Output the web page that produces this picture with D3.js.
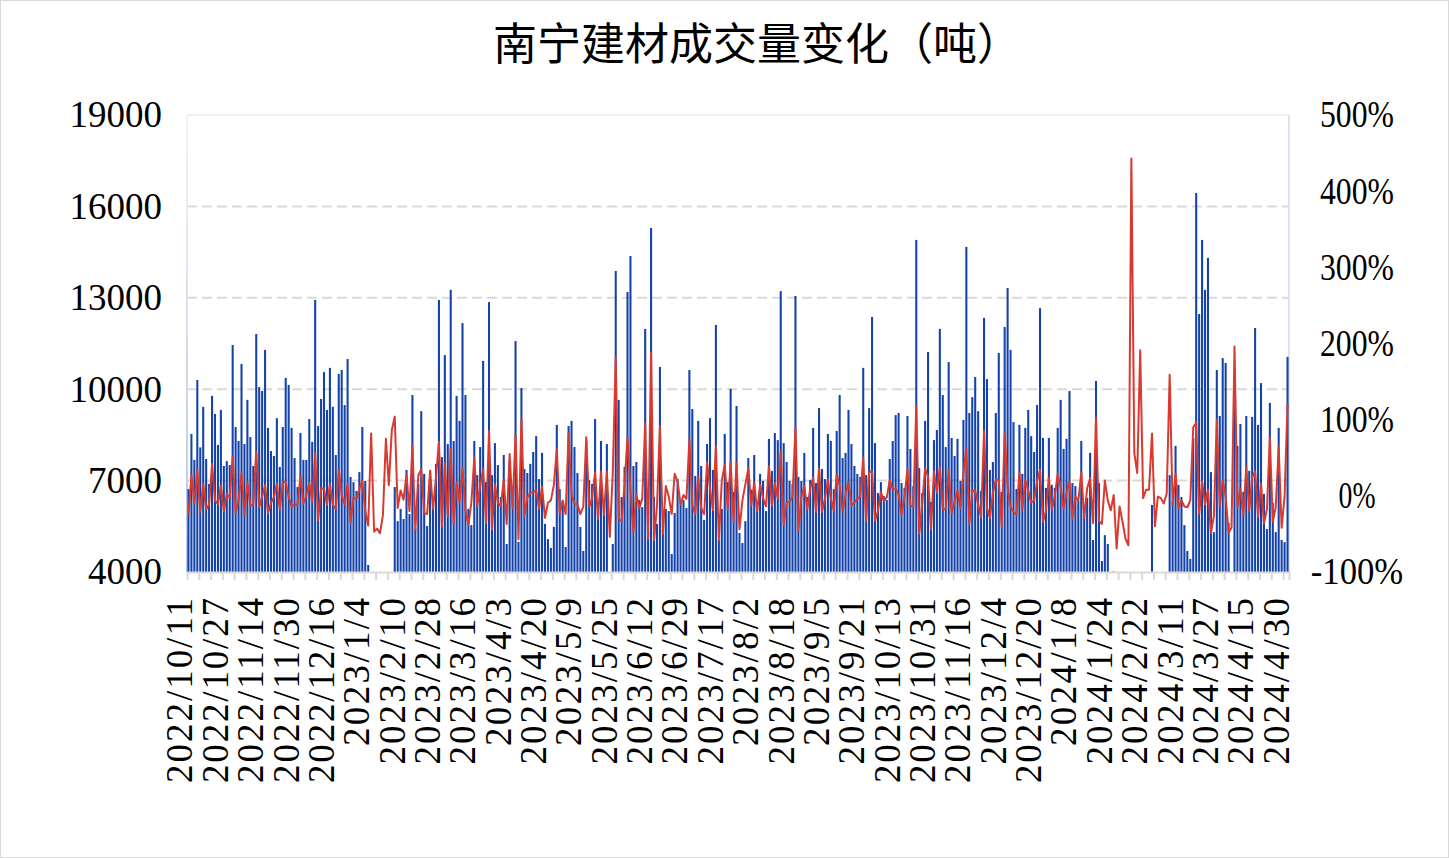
<!DOCTYPE html>
<html><head><meta charset="utf-8">
<script src="https://cdn.jsdelivr.net/npm/d3@7"></script>
<style>html,body{margin:0;padding:0;background:#fff;}svg{display:block;}</style>
</head><body>
<svg id="chart" width="1449" height="858"></svg>
<script>
const title = "南宁建材成交量变化（吨）";
const tickLabels = ["2022/10/11","2022/10/27","2022/11/14","2022/11/30","2022/12/16","2023/1/4","2023/2/10","2023/2/28","2023/3/16","2023/4/3","2023/4/20","2023/5/9","2023/5/25","2023/6/12","2023/6/29","2023/7/17","2023/8/2","2023/8/18","2023/9/5","2023/9/21","2023/10/13","2023/10/31","2023/11/16","2023/12/4","2023/12/20","2024/1/8","2024/1/24","2024/2/22","2024/3/11","2024/3/27","2024/4/15","2024/4/30"];
const leftTicks = [4000,7000,10000,13000,16000,19000];
const rightTicks = [-100,0,100,200,300,400,500];
// 成交量（吨）
const volume = [
6720,8530,7680,10300,8090,9420,7710,6890,9780,9190,
8170,9320,7480,7640,7510,11450,8760,8300,10830,8200,
9650,8430,7480,11810,10070,9940,11290,8730,7970,7810,
9050,7450,8760,10370,10140,8730,7740,6790,8560,7680,
7680,9020,8270,12930,8790,9680,10560,9320,10700,9420,
7840,10500,10630,9480,10990,7120,6950,6660,7280,8760,
6990,4230,3950,3920,2350,1200,900,1570,1790,3330,
6790,5670,6070,5740,7350,5900,9810,5430,6890,9280,
7220,5510,7350,6070,7550,12930,7770,11120,8200,13260,
8300,9780,8960,12170,9810,6070,5540,8300,7180,8100,
10930,6950,12860,7180,8230,7510,6460,7840,4920,7640,
6430,11580,4990,10040,7380,7250,7550,7940,8460,7050,
7910,5580,5080,4790,5480,8830,6720,6330,4820,8790,
8960,8100,7250,5480,4690,8300,7020,6890,9020,6300,
8300,6200,8200,3770,4920,13880,9650,6460,7450,13190,
14370,7480,7610,6360,6130,11980,5300,15290,6460,5580,
10730,5380,6070,6000,4590,5940,7050,6300,6360,6100,
10630,9350,7150,8960,7480,5710,8200,9050,7350,12110,
5050,6070,8530,6950,10010,6630,9450,5280,4950,5670,
7740,6700,7840,6300,7220,6990,6000,8370,7320,8560,
8330,13220,8230,7610,6990,6890,13060,7120,6990,7910,
6460,7020,8730,6920,9380,7380,7050,8530,8300,6720,
8630,9810,7740,7910,9320,8200,7480,7220,7120,10700,
7180,9380,12370,8230,6590,6950,6490,6360,7710,8300,
9150,9220,6920,6760,9120,8040,6820,14900,7410,6590,
8960,11220,6300,8330,8660,11980,9810,8100,10890,8400,
7810,8370,6990,8990,14670,9220,9740,10400,9280,6660,
12340,10330,7350,7610,9220,11190,6630,12040,13320,11290,
8920,6720,8830,7220,8730,9320,8460,7940,9480,12660,
8400,6760,8400,6860,6760,8730,9650,8040,8370,9940,
6920,6820,6330,8300,5870,6430,7910,5050,10270,6920,
4360,5210,4920,3990,4020,1250,1070,710,310,110,
600,935,1215,3540,3430,3700,3990,6200,3130,3100,
3000,2700,2780,7180,6300,8140,6860,6460,5540,4690,
4430,8400,16440,12470,14900,13260,14310,7280,5310,10630,
9120,11020,10860,5610,3250,9610,8140,8860,6630,9120,
7320,9090,12010,8830,10200,6560,5410,9550,6270,5310,
8730,5050,4980,11060];
// 环比变化（%）
const change = [
-25,27,-10,34,-21,16,-18,-11,42,-6,
-11,14,-20,2,-2,52,-23,-5,30,-24,
18,-13,-11,58,-15,-1,14,-23,-9,-2,
16,-18,18,18,-2,-14,-11,-12,26,-10,
0,17,-8,56,-32,10,9,-12,15,-12,
-17,34,1,-11,16,-35,-2,-4,9,20,
-20,-39,82,-47,-43,-49,-25,75,14,86,
104,-16,7,-5,28,-20,66,-45,27,35,
-22,-24,33,-17,24,71,-40,43,-26,62,
-37,18,-8,36,-19,-38,-9,50,-13,13,
35,-36,85,-44,15,-9,-14,21,-37,55,
-16,80,-57,101,-26,-2,4,5,7,-17,
12,-29,-9,-6,14,61,-24,-6,-24,82,
2,-10,-11,-24,-14,77,-15,-2,31,-30,
32,-25,32,-54,30,182,-31,-33,15,77,
9,-48,2,-16,-4,95,-56,188,-58,-14,
92,-50,13,-1,-24,29,19,-11,1,-4,
74,-12,-24,25,-16,-24,44,10,-19,65,
-58,20,41,-18,44,-34,43,-44,-6,15,
36,-13,17,-20,15,-3,-14,39,-13,17,
-3,59,-38,-8,-8,-1,90,-45,-2,13,
-18,9,24,-21,36,-21,-4,21,-3,-19,
28,14,-21,2,18,-12,-9,-4,-1,50,
-33,31,32,-33,-20,5,-7,-2,21,8,
10,1,-25,-2,35,-12,-15,118,-50,-11,
36,25,-44,32,4,38,-18,-17,34,-23,
-7,7,-16,29,63,-37,6,7,-11,-28,
85,-16,-29,4,21,21,-41,82,11,-15,
-21,-25,31,-18,21,7,-9,-6,19,34,
-34,-20,24,-18,-1,29,11,-17,4,19,
-30,-1,-7,31,-29,10,23,-36,103,-33,
-37,20,-6,-19,1,-69,-14,-34,-56,-65,
443,56,30,191,-3,8,8,82,-40,-1,
-3,-10,3,159,-12,29,-16,-6,-14,-15,
-6,90,96,-24,19,-11,8,-49,-27,100,
-14,21,-1,-48,-42,196,-15,9,-25,38,
-20,24,32,-27,16,-36,-18,76,-34,-15,
64,-42,-1,122];

const W = 1449, H = 858;
const plot = {left: 187, right: 1289, top: 115, bottom: 572};
const numFont = "'Liberation Serif', 'Times New Roman', serif";
const fs = 37;
const svg = d3.select("#chart");

svg.append("rect").attr("x",0.5).attr("y",0.5).attr("width",W-1).attr("height",H-1)
  .attr("fill","#fff").attr("stroke","#d9d9d9");

svg.append("text").attr("x",757).attr("y",60).attr("text-anchor","middle")
  .attr("font-family","'Noto Sans CJK SC', sans-serif").attr("font-size",44).attr("fill","#000")
  .text(title);

const n = volume.length;
const x = d3.scaleBand().domain(d3.range(n)).range([plot.left, plot.right]).paddingInner(0.3).paddingOuter(0.15);
const xEdge = d3.scaleLinear().domain([0, n]).range([plot.left, plot.right]);
const yL = d3.scaleLinear().domain([4000, 19000]).range([plot.bottom, plot.top]).clamp(true);
const yR = d3.scaleLinear().domain([-100, 500]).range([plot.bottom, plot.top]);

// gridlines
svg.append("g").selectAll("line").data(leftTicks.filter(d => d > 4000 && d < 19000)).join("line")
  .attr("x1", plot.left).attr("x2", plot.right)
  .attr("y1", d => yL(d)).attr("y2", d => yL(d))
  .attr("stroke", "#d9d9d9").attr("stroke-width", 2).attr("stroke-dasharray", "10,5");

// plot border
const defs = svg.append("defs");
const lg = defs.append("linearGradient").attr("id","lgL").attr("x1",0).attr("y1",0).attr("x2",0).attr("y2",1);
lg.append("stop").attr("offset","0%").attr("stop-color","#f1f4fa");
lg.append("stop").attr("offset","100%").attr("stop-color","#b4c4e4");
svg.append("line").attr("x1",plot.left).attr("x2",plot.right).attr("y1",plot.top).attr("y2",plot.top)
  .attr("stroke","#eef0f4").attr("stroke-width",2);
svg.append("rect").attr("x",plot.left-1).attr("y",plot.top).attr("width",2).attr("height",plot.bottom-plot.top)
  .attr("fill","url(#lgL)");
svg.append("line").attr("x1",plot.right).attr("x2",plot.right).attr("y1",plot.top).attr("y2",plot.bottom)
  .attr("stroke","#dde4f1").attr("stroke-width",2);

// bars
svg.append("g").selectAll("rect").data(volume).join("rect")
  .attr("x", (d, i) => x(i)).attr("width", x.bandwidth())
  .attr("y", d => yL(d)).attr("height", d => plot.bottom - yL(d))
  .attr("fill", "#1343AA");

// line
const line = d3.line().x((d, i) => x(i) + x.bandwidth() / 2).y(d => yR(d));
svg.append("path").datum(change).attr("d", line).attr("fill", "none")
  .attr("stroke", "#D93A30").attr("stroke-width", 2).attr("stroke-linejoin", "round");

// x axis line & tick marks
const gt = svg.append("g").attr("transform", `translate(0,${plot.bottom})`)
  .call(d3.axisBottom(xEdge).tickValues(d3.range(0, n + 1, 4).concat([n])).tickSize(8).tickSizeOuter(0).tickFormat(""));
gt.select(".domain").attr("stroke", "#d9d9d9").attr("stroke-width", 2);
gt.selectAll(".tick line").attr("stroke", "#d9d9d9").attr("stroke-width", 2);

// x labels
const gx = svg.append("g").attr("transform", `translate(0,${plot.bottom})`)
  .call(d3.axisBottom(x).tickValues(d3.range(0, n, 12)).tickFormat(i => tickLabels[i / 12]).tickSize(0));
gx.select(".domain").remove();
gx.selectAll("text")
  .attr("transform", "rotate(-90)").attr("text-anchor", "end")
  .attr("x", -26).attr("y", 4).attr("dy", 0)
  .attr("font-family", numFont).attr("font-size", fs).attr("fill", "#000")
  .attr("textLength", function () { return this.textContent.length * 0.5 * fs; })
  .attr("lengthAdjust", "spacing");

// left axis
const gl = svg.append("g").attr("transform", `translate(${plot.left},0)`)
  .call(d3.axisLeft(yL).tickValues(leftTicks).tickSize(0).tickPadding(25).tickFormat(d3.format("d")));
gl.select(".domain").remove();
gl.selectAll("text").attr("font-family", numFont).attr("font-size", fs).attr("fill", "#000");

// right axis
const gr = svg.append("g").attr("transform", `translate(${plot.right},0)`)
  .call(d3.axisRight(yR).tickValues(rightTicks).tickSize(0).tickPadding(0).tickFormat(d => d + "%"));
gr.select(".domain").remove();
gr.selectAll("text").attr("font-family", numFont).attr("font-size", fs).attr("fill", "#000")
  .attr("x", 68).attr("text-anchor", "middle")
  .attr("textLength", function () { return this.textContent.length * 0.5 * fs; })
  .attr("lengthAdjust", "spacingAndGlyphs");
</script>
</body></html>
